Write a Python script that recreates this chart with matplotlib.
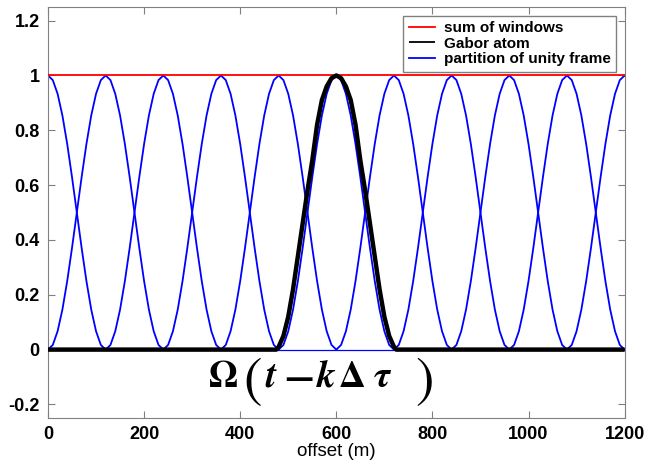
import numpy as np
import matplotlib.pyplot as plt

plt.rcParams['font.family'] = ['Liberation Sans', 'DejaVu Sans']
plt.rcParams['mathtext.fontset'] = 'stix'

# window centres (m) and the raised-cosine window profile, sampled every 10 m
centres = [0, 120, 240, 360, 480, 600, 720, 840, 960, 1080, 1200]
win_offsets = [-120, -110, -100, -90, -80, -70, -60, -50, -40, -30, -20, -10, 0,
               10, 20, 30, 40, 50, 60, 70, 80, 90, 100, 110, 120]
win_values = [0.0, 0.017, 0.067, 0.146, 0.25, 0.371, 0.5, 0.629, 0.75, 0.854, 0.933, 0.983, 1.0,
              0.983, 0.933, 0.854, 0.75, 0.629, 0.5, 0.371, 0.25, 0.146, 0.067, 0.017, 0.0]
# windows are zero outside their support
base_x = [0, 1200]
base_y = [0, 0]

# Gabor atom around 600 m, zero elsewhere on the line
atom_x = [0, 475, 480, 490, 500, 510, 520, 530, 540, 550, 560, 570, 580, 590, 600,
          610, 620, 630, 640, 650, 660, 670, 680, 690, 700, 710, 720, 725, 1200]
atom_y = [0, 0, 0.01, 0.05, 0.12, 0.22, 0.34, 0.46, 0.58, 0.69, 0.82, 0.91, 0.96, 0.99, 1.0,
          0.99, 0.96, 0.91, 0.82, 0.69, 0.58, 0.46, 0.34, 0.22, 0.12, 0.05, 0.01, 0, 0]

sum_x = [0, 1200]
sum_y = [1, 1]

xticks = [0, 200, 400, 600, 800, 1000, 1200]
yticks = [-0.2, 0, 0.2, 0.4, 0.6, 0.8, 1, 1.2]
ytick_labels = ['-0.2', '0', '0.2', '0.4', '0.6', '0.8', '1', '1.2']

# pieces of the shifted-window formula and where each sits along the offset axis
formula_glyphs = [r'$\mathbf{\Omega}$', r'$\boldsymbol{t}$', r'$\boldsymbol{k}$',
                  r'$\mathbf{\Delta}$', r'$\boldsymbol{\tau}$']
formula_x = [364, 466, 580, 632, 696]
minus_x = 520
paren_x = [426, 784]

fig = plt.figure(figsize=(6.45, 4.61), dpi=100)
ax = fig.add_axes([0.0744, 0.093, 0.894, 0.892])

off = np.array(win_offsets)
ax.plot(base_x, base_y, color='#0000ff', lw=0.9, zorder=2)
for i, c in enumerate(centres):
    ax.plot(c + off, win_values, color='#0000ff', lw=1.3, zorder=2,
            label='partition of unity frame' if i == 0 else None)

ax.plot(sum_x, sum_y, color='#ff0000', lw=1.3, zorder=3, label='sum of windows')
ax.plot(atom_x, atom_y, color='black', lw=3.2, zorder=4, label='Gabor atom',
        solid_joinstyle='round', solid_capstyle='butt')

for g, gx in zip(formula_glyphs, formula_x):
    ax.text(gx, -0.135, g, ha='center', va='baseline', fontsize=27, zorder=5)
ax.text(minus_x, -0.141, r'$\mathbf{-}$', ha='center', va='baseline', fontsize=30, zorder=5)
for p, px in zip(['(', ')'], paren_x):
    ax.text(px, -0.122, p, ha='center', va='center', fontsize=40,
            family='STIXGeneral', zorder=5)

ax.set_xlim(0, 1200)
ax.set_ylim(-0.25, 1.25)
ax.set_xticks(xticks)
ax.set_xticklabels([str(t) for t in xticks])
ax.set_yticks(yticks)
ax.set_yticklabels(ytick_labels)
ax.tick_params(direction='in', length=5, color='#808080', top=True, right=True,
               labelsize=13, pad=6)
for lab in ax.get_xticklabels() + ax.get_yticklabels():
    lab.set_fontweight('bold')
for sp in ax.spines.values():
    sp.set_color('#808080')
ax.set_xlabel('offset (m)', fontsize=13.5, labelpad=0)

h, l = ax.get_legend_handles_labels()
order = [l.index('sum of windows'), l.index('Gabor atom'), l.index('partition of unity frame')]
leg = ax.legend([h[k] for k in order], [l[k] for k in order], loc='upper right',
                prop={'weight': 'bold', 'size': 11}, fancybox=False, framealpha=1,
                edgecolor='#808080', borderpad=0.35, labelspacing=0.1, handlelength=1.7,
                handletextpad=0.6, borderaxespad=0, bbox_to_anchor=(0.985, 0.978))
for line in leg.get_lines():
    line.set_linewidth(1.3)

fig.savefig('out.png', dpi=100)
